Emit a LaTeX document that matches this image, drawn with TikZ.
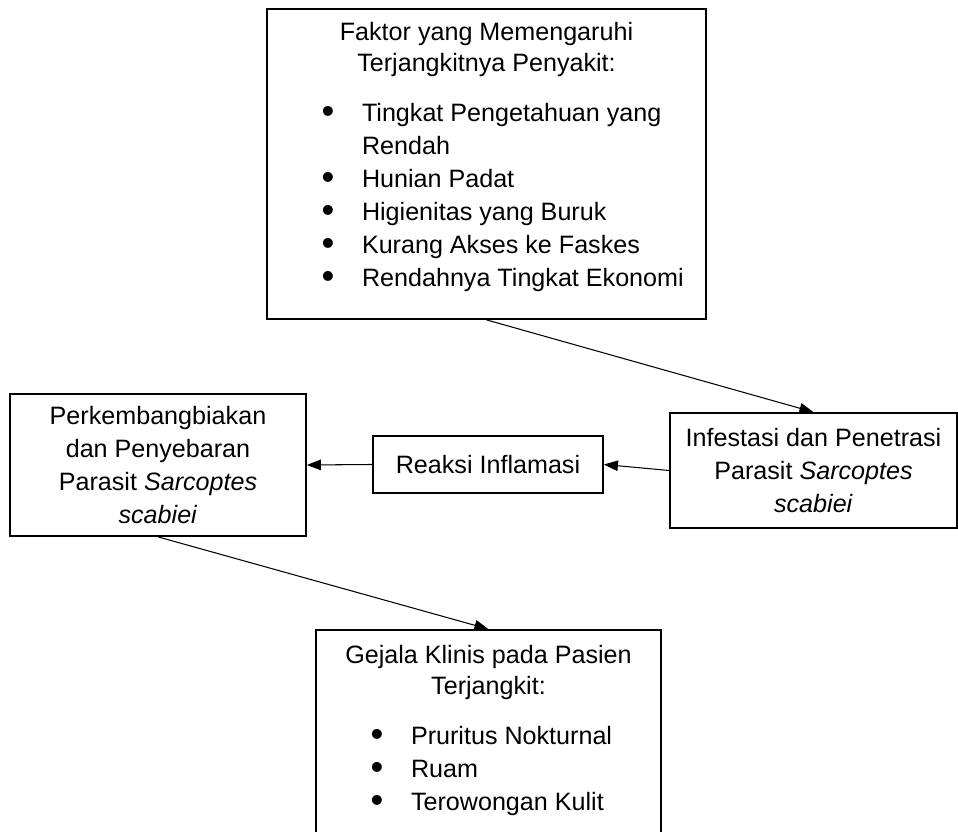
\documentclass[tikz,border=0pt]{standalone}
\usepackage{fontspec}
\setmainfont{Liberation Sans}
\usetikzlibrary{arrows.meta}

% bullet line and continuation line inside the list boxes
\newcommand{\bul}[1]{\par\noindent\hspace*{1.22cm}\makebox[0pt]{\raisebox{-1pt}{\scalebox{1.45}{\textbullet}}}\hspace*{0.68cm}#1}
\newcommand{\cont}[1]{\par\noindent\hspace*{1.9cm}#1}

\begin{document}
\begin{tikzpicture}[
  every node/.style={font=\fontsize{14.3}{18.8}\selectfont},
  blk/.style={rectangle, draw=black, line width=1pt, align=center, inner sep=0pt},
  arr/.style={-{Triangle[length=8pt, width=6pt]}, line width=0.6pt},
]
\useasboundingbox (0,0) rectangle (19.16,-16.64);

% Boxes
\node[blk] (faktor) at (9.73,-3.28)
  {\parbox[c][6.2cm][t]{8.78cm}{\vspace*{7.7pt}\centering
    Faktor yang Memengaruhi\\[-1.3pt]Terjangkitnya Penyakit:\par
    \vspace{9.7pt}\raggedright
    \bul{Tingkat Pengetahuan yang}
    \cont{Rendah}
    \bul{Hunian Padat}
    \bul{Higienitas yang Buruk}
    \bul{Kurang Akses ke Faskes}
    \bul{Rendahnya Tingkat Ekonomi}}};
\node[blk, minimum width=5.92cm, minimum height=2.84cm] (biak) at (3.16,-9.3)
  {Perkembangbiakan\\dan Penyebaran\\Parasit \textit{Sarcoptes}\\\textit{scabiei}};
\node[blk, minimum width=4.6cm, minimum height=1.14cm] (reaksi) at (9.76,-9.29)
  {Reaksi Inflamasi};
\node[blk, minimum width=5.74cm, minimum height=2.3cm] (infest) at (16.27,-9.41)
  {Infestasi dan Penetrasi\\Parasit \textit{Sarcoptes}\\\textit{scabiei}};
\node[blk] (gejala) at (9.77,-14.8)
  {\parbox[c][4.4cm][t]{6.9cm}{\vspace*{8.8pt}\centering
    Gejala Klinis pada Pasien\\[-1.3pt]Terjangkit:\par
    \vspace{9.7pt}\raggedright
    \bul{Pruritus Nokturnal}
    \bul{Ruam}
    \bul{Terowongan Kulit}}};

% Arrows
\draw[arr] (faktor.south) -- (infest.north);
\draw[arr] (infest.west) -- (reaksi.east);
\draw[arr] (reaksi.west) -- (biak.east);
\draw[arr] (biak.south) -- (gejala.north);

\end{tikzpicture}
\end{document}
